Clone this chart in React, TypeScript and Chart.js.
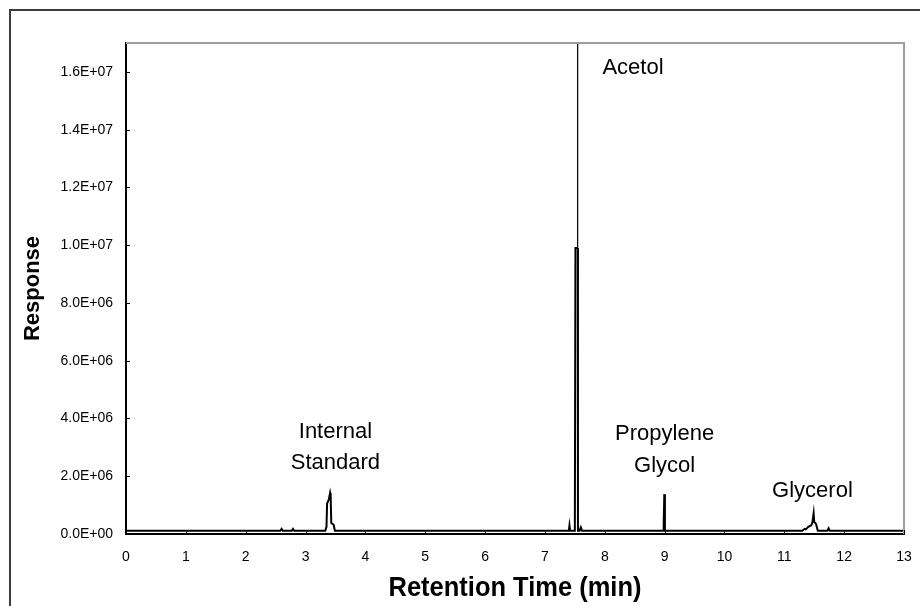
import React, { useEffect, useRef } from "react";
import { Chart, registerables } from "chart.js";

Chart.register(...registerables);

// Chromatogram trace: retention time (min) and detector response
const retentionTime = [
  0, 2.58, 2.6, 2.62, 2.77, 2.79, 2.81,
  3.33, 3.35, 3.36, 3.39, 3.41, 3.42, 3.43, 3.47, 3.49,
  7.4, 7.41, 7.42, 7.5, 7.51, 7.545, 7.545, 7.548, 7.552, 7.58, 7.6, 7.62,
  8.98, 8.985, 8.995, 9.005,
  11.3, 11.34, 11.36, 11.4, 11.45, 11.47, 11.49, 11.5, 11.53, 11.56, 11.72, 11.74, 11.76,
  13,
];
const response = [
  1.15e5, 1.15e5, 1.8e5, 1.15e5, 1.15e5, 1.8e5, 1.15e5,
  1.15e5, 2.5e5, 1.05e6, 1.2e6, 1.42e6, 1.3e6, 3.8e5, 3.2e5, 1.15e5,
  1.15e5, 2.9e5, 1.15e5, 1.15e5, 9.9e6, 9.9e6, 2.0e7, 9.9e6, 1.15e5, 1.15e5, 2.3e5, 1.15e5,
  1.15e5, 3.8e5, 1.38e6, 1.15e5,
  1.15e5, 1.8e5, 1.6e5, 2.5e5, 3.0e5, 4.0e5, 7.15e5, 4.2e5, 3.5e5, 1.15e5, 1.15e5, 2.0e5, 1.15e5,
  1.15e5,
];

// Axis ranges and tick values
const timeMin = 0;
const timeMax = 13;
const responseMin = 0;
const responseMax = 1.7e7;
const timeTicks = [0, 1, 2, 3, 4, 5, 6, 7, 8, 9, 10, 11, 12, 13];
const responseTicks = [0, 2e6, 4e6, 6e6, 8e6, 1e7, 1.2e7, 1.4e7, 1.6e7];

// Peak names, placed in data coordinates
const peakLabelText = ["Acetol", "Internal", "Standard", "Propylene", "Glycol", "Glycerol"];
const peakLabelTime = [7.96, 3.5, 3.5, 9.0, 9.0, 11.47];
const peakLabelResponse = [1.613e7, 3.55e6, 2.45e6, 3.47e6, 2.37e6, 1.49e6];
const peakLabelAlign = ["left", "center", "center", "center", "center", "center"];

const xTitle = "Retention Time (min)";
const yTitle = "Response";

const FONT = "'Liberation Sans', Arial, Helvetica, sans-serif";

function sciLabel(v: number): string {
  if (v === 0) return "0.0E+00";
  const e = Math.floor(Math.log10(v) + 1e-9);
  const m = v / Math.pow(10, e);
  return m.toFixed(1) + "E+" + String(e).padStart(2, "0");
}

const chromPlugin = {
  id: "chromDecor",
  beforeDraw(chart: any) {
    const { ctx, width, height } = chart;
    ctx.save();
    ctx.fillStyle = "#ffffff";
    ctx.fillRect(0, 0, width, height);
    // outer frame (top and left edges)
    ctx.strokeStyle = "#3c3c3c";
    ctx.lineWidth = 2;
    ctx.beginPath();
    ctx.moveTo(10, height);
    ctx.lineTo(10, 10);
    ctx.lineTo(width, 10);
    ctx.stroke();
    ctx.restore();
  },
  afterDraw(chart: any) {
    const { ctx, chartArea } = chart;
    const { left, right, top, bottom } = chartArea;
    const xs = chart.scales.x;
    const ys = chart.scales.y;
    ctx.save();

    // plot-area border on top and right
    ctx.strokeStyle = "#9e9e9e";
    ctx.lineWidth = 2;
    ctx.beginPath();
    ctx.moveTo(left, top);
    ctx.lineTo(right, top);
    ctx.lineTo(right, bottom);
    ctx.stroke();

    // inward tick marks
    ctx.strokeStyle = "#000";
    ctx.lineWidth = 1;
    ctx.beginPath();
    responseTicks.forEach((v) => {
      const py = Math.round(ys.getPixelForValue(v)) + 0.5;
      ctx.moveTo(left, py);
      ctx.lineTo(left + 4, py);
    });
    timeTicks.forEach((v) => {
      const px = Math.round(xs.getPixelForValue(v)) + 0.5;
      ctx.moveTo(px, bottom);
      ctx.lineTo(px, bottom - 4);
    });
    ctx.stroke();

    // peak names
    ctx.fillStyle = "#000";
    ctx.font = `22px ${FONT}`;
    ctx.textBaseline = "middle";
    peakLabelText.forEach((t, i) => {
      ctx.textAlign = peakLabelAlign[i] as CanvasTextAlign;
      ctx.fillText(t, xs.getPixelForValue(peakLabelTime[i]), ys.getPixelForValue(peakLabelResponse[i]));
    });

    // axis titles
    ctx.font = `bold 28px ${FONT}`;
    ctx.textAlign = "center";
    ctx.save();
    ctx.translate((left + right) / 2, 588);
    ctx.scale(0.91, 1);
    ctx.fillText(xTitle, 0, 0);
    ctx.restore();

    ctx.save();
    ctx.font = `bold 22px ${FONT}`;
    ctx.translate(33, (top + bottom) / 2);
    ctx.rotate(-Math.PI / 2);
    ctx.fillText(yTitle, 0, 0);
    ctx.restore();

    ctx.restore();
  },
};

export default function App() {
  const canvasRef = useRef<HTMLCanvasElement | null>(null);

  useEffect(() => {
    const canvas = canvasRef.current;
    if (!canvas) return;
    const points = retentionTime.map((t, i) => ({ x: t, y: response[i] }));
    const chart = new Chart(canvas, {
      type: "line",
      data: {
        datasets: [
          {
            data: points,
            borderColor: "#000",
            borderWidth: 2,
            pointRadius: 0,
            tension: 0,
            fill: false,
            segment: {
              borderWidth: (c: any) =>
                c.p0.parsed.y > 1.5e7 || c.p1.parsed.y > 1.5e7 ? 1 : 2,
            },
          },
        ],
      },
      options: {
        animation: false,
        responsive: false,
        maintainAspectRatio: false,
        devicePixelRatio: 1,
        layout: { padding: { top: 43, right: 16, left: 0, bottom: 0 } },
        plugins: {
          legend: { display: false },
          tooltip: { enabled: false },
        },
        events: [],
        scales: {
          x: {
            type: "linear",
            min: timeMin,
            max: timeMax,
            grid: { display: false, drawTicks: false },
            border: { display: true, color: "#000", width: 2 },
            afterBuildTicks: (s: any) => {
              s.ticks = timeTicks.map((v) => ({ value: v }));
            },
            afterFit: (s: any) => {
              s.height = 72;
              s.paddingLeft = 0;
              s.paddingRight = 0;
            },
            ticks: {
              autoSkip: false,
              maxRotation: 0,
              padding: 15,
              color: "#000",
              font: { family: FONT, size: 14 },
              callback: (v: any) => String(v),
            },
          },
          y: {
            type: "linear",
            min: responseMin,
            max: responseMax,
            grid: { display: false, drawTicks: false },
            border: { display: true, color: "#000", width: 2 },
            afterBuildTicks: (s: any) => {
              s.ticks = responseTicks.map((v) => ({ value: v }));
            },
            afterFit: (s: any) => {
              s.width = 126;
              s.paddingTop = 0;
              s.paddingBottom = 0;
            },
            ticks: {
              padding: 13,
              color: "#000",
              font: { family: FONT, size: 14 },
              callback: (v: any) => sciLabel(Number(v)),
            },
          },
        },
      },
      plugins: [chromPlugin],
    });
    return () => chart.destroy();
  }, []);

  return (
    <div style={{ position: "absolute", left: 0, top: 0, width: 920, height: 606, background: "#fff" }}>
      <canvas ref={canvasRef} width={920} height={606} style={{ display: "block" }} />
    </div>
  );
}
